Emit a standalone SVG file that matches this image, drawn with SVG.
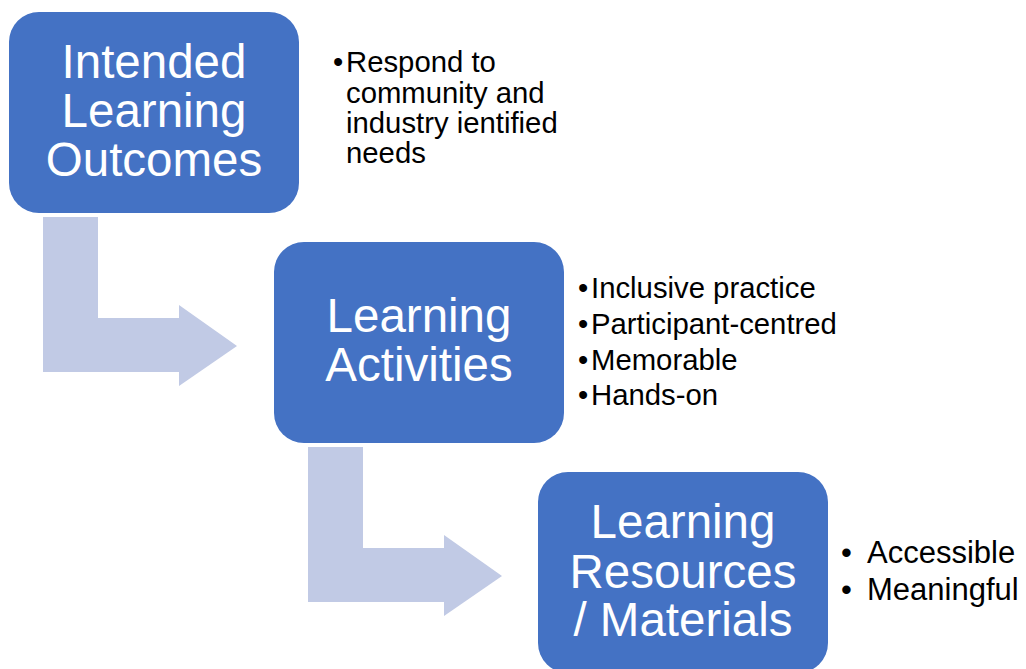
<svg xmlns="http://www.w3.org/2000/svg" width="1026" height="669" viewBox="0 0 1026 669">
  <style>
    .box { fill: #4472C4; }
    .bend { fill: #C1CAE5; }
    .title { font-family: "Liberation Sans", Arial, sans-serif; font-size: 47.5px; fill: #FFFFFF; text-anchor: middle; }
    .note { font-family: "Liberation Sans", Arial, sans-serif; font-size: 29.3px; fill: #000000; }
    .note-lg { font-family: "Liberation Sans", Arial, sans-serif; font-size: 31px; fill: #000000; }
  </style>
  <rect width="1026" height="669" fill="#FFFFFF"/>

  <!-- bent arrows leading from each stage to the next -->
  <g id="connectors">
    <path class="bend" d="M43,217 H98 V318 H179 V305 L237,346 L179,386 V372 H43 Z"/>
    <path class="bend" d="M308,447 H363 V548 H444 V535 L502,576 L444,616 V602 H308 Z"/>
  </g>

  <g id="node-outcomes">
    <rect class="box" x="9" y="12" width="290" height="201" rx="30" ry="30"/>
    <text class="title" x="154" y="78">Intended</text>
    <text class="title" x="154" y="127">Learning</text>
    <text class="title" x="154" y="176">Outcomes</text>
  </g>

  <g id="notes-outcomes">
    <text class="note" x="333" y="72">•</text>
    <text class="note" x="346" y="72">Respond to</text>
    <text class="note" x="346" y="103">community and</text>
    <text class="note" x="346" y="133">industry ientified</text>
    <text class="note" x="346" y="163">needs</text>
  </g>

  <g id="node-activities">
    <rect class="box" x="274" y="242" width="290" height="201" rx="30" ry="30"/>
    <text class="title" x="419" y="332">Learning</text>
    <text class="title" x="419" y="381">Activities</text>
  </g>

  <g id="notes-activities">
    <text class="note" x="578" y="298">•</text>
    <text class="note" x="591" y="298">Inclusive practice</text>
    <text class="note" x="578" y="334">•</text>
    <text class="note" x="591" y="334">Participant-centred</text>
    <text class="note" x="578" y="370">•</text>
    <text class="note" x="591" y="370">Memorable</text>
    <text class="note" x="578" y="405">•</text>
    <text class="note" x="591" y="405">Hands-on</text>
  </g>

  <g id="node-resources">
    <rect class="box" x="538" y="472" width="290" height="201" rx="30" ry="30"/>
    <text class="title" x="683" y="538">Learning</text>
    <text class="title" x="683" y="588">Resources</text>
    <text class="title" x="683" y="636">/ Materials</text>
  </g>

  <g id="notes-resources">
    <text class="note-lg" x="841" y="563">•</text>
    <text class="note-lg" x="867" y="563">Accessible</text>
    <text class="note-lg" x="841" y="600">•</text>
    <text class="note-lg" x="867" y="600">Meaningful</text>
  </g>
</svg>
